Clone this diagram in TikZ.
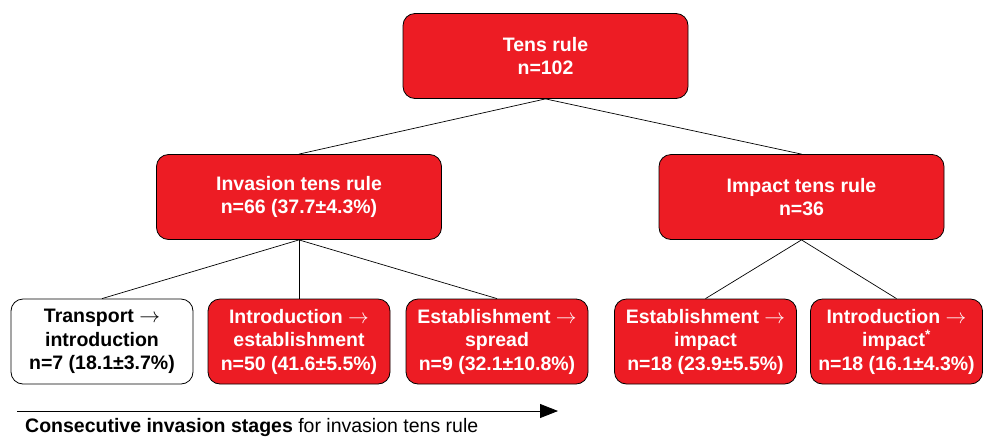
\documentclass[tikz,border=0pt]{standalone}
\usepackage{fontspec}
\setmainfont{Liberation Sans}
\usepackage{xcolor}
\usetikzlibrary{arrows.meta}
\definecolor{tenred}{HTML}{ED1C24}

\begin{document}
\begin{tikzpicture}[x=1pt, y=-1pt,
    box/.style={draw, rounded corners=12pt, fill=tenred, text=white, align=center,
      inner sep=0pt, line width=0.8pt, font=\bfseries\fontsize{19.5}{23.5}\selectfont},
    wide/.style={box, minimum width=285pt, minimum height=85pt},
    leaf/.style={box, minimum width=182pt, minimum height=85pt},
    plain/.style={leaf, fill=white, text=black},
    link/.style={line width=0.7pt},
    arr/.style={-{Triangle[length=18pt, width=14pt]}, line width=0.8pt}
  ]
    \useasboundingbox (0,0) rectangle (984,437);

    % Top of the tree
    \node[wide] (tens) at (545.5, 56) {Tens rule\\n=102};

    % Two branches
    \node[wide] (inv) at (299, 197) {Invasion tens rule\\n=66 (37.7±4.3\%)};
    \node[wide] (imp) at (801.5, 197) {Impact tens rule\\n=36};

    % Stages of the invasion branch
    \node[plain] (trans) at (102, 341.5) {Transport \(\rightarrow\)\\introduction\\n=7 (18.1±3.7\%)};
    \node[leaf] (intest) at (299, 341.5) {Introduction \(\rightarrow\)\\establishment\\n=50 (41.6±5.5\%)};
    \node[leaf] (estspr) at (497, 341.5) {Establishment \(\rightarrow\)\\spread\\n=9 (32.1±10.8\%)};

    % Stages of the impact branch
    \node[leaf] (estimp) at (705.5, 341.5) {Establishment \(\rightarrow\)\\impact\\n=18 (23.9±5.5\%)};
    \node[leaf, minimum width=172pt] (intimp) at (896.5, 341.5) {Introduction \(\rightarrow\)\\impact\textsuperscript{*}\\n=18 (16.1±4.3\%)};

    % Tree links
    \draw[link] (tens.south) -- (inv.north);
    \draw[link] (tens.south) -- (imp.north);
    \draw[link] (inv.south) -- (trans.north);
    \draw[link] (inv.south) -- (intest.north);
    \draw[link] (inv.south) -- (estspr.north);
    \draw[link] (imp.south) -- (estimp.north);
    \draw[link] (imp.south) -- (intimp.north);

    % Direction of the stages
    \coordinate (stfrom) at (17, 411);
    \coordinate (stto) at (558, 411);
    \draw[arr] (stfrom) -- (stto);
    \node[anchor=base west, inner sep=0pt, font=\fontsize{19.5}{23.5}\selectfont] (stlabel) at (25, 432)
      {\textbf{Consecutive invasion stages} for invasion tens rule};
\end{tikzpicture}
\end{document}
